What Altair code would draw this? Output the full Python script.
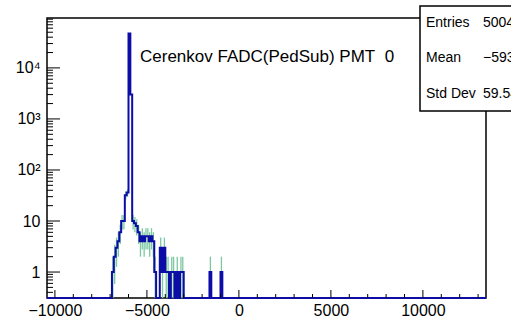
import altair as alt
import pandas as pd

# ---------------- data ----------------
BIN_WIDTH = 100
# contiguous bins (left edges) around the pedestal peak
main_lefts = list(range(-6900, -3000, 100))
main_counts = [1, 2, 3, 4, 6, 10, 10, 32, 36, 47000, 3000,
               10, 9, 8, 6, 4, 5, 4, 5, 5, 4, 5, 4, 1,
               0, 0, 3, 1, 3, 1, 1, 0, 1, 1, 0, 1, 0, 1, 1]
# isolated bins
iso_lefts = [-1600, -1000]
iso_counts = [1, 1]

X_MIN, X_MAX = -10430, 13430
Y_MIN, Y_MAX = 0.31, 95000

x_major = [-10000, -5000, 0, 5000, 10000]
x_minor = [v for v in range(-10000, 13001, 1000) if v not in x_major]
y_major = [1, 10, 100, 1000, 10000]
y_minor = [m * 10 ** e for e in range(-1, 5) for m in range(2, 10)
           if Y_MIN <= m * 10 ** e <= Y_MAX and m * 10 ** e not in y_major]

stats_labels = ["Entries", "Mean", "Std Dev"]
stats_values = ["50046", "\u22125938", "59.54"]
title_text = "Cerenkov FADC(PedSub) PMT\u00a0 0"

FONT = "Liberation Sans, Arial, sans-serif"

# ---------------- tables ----------------
counts_by_left = dict(zip(main_lefts, main_counts))
counts_by_left.update(dict(zip(iso_lefts, iso_counts)))

grid = list(range(-10400, 13400, BIN_WIDTH))
step_x = [X_MIN] + grid + [X_MAX]
step_c = [0] + [counts_by_left.get(g, 0) for g in grid] + [0]
steps = pd.DataFrame({"x": step_x, "c": step_c})

nz = [(l, c) for l, c in counts_by_left.items() if c > 0]
errs = pd.DataFrame({"left": [l for l, _ in nz], "c": [c for _, c in nz]})

W, H = 439, 280

xscale = alt.Scale(domain=[X_MIN, X_MAX], nice=False, zero=False)
yscale = alt.Scale(type="log", domain=[Y_MIN, Y_MAX], nice=False)

xaxis = alt.Axis(values=x_major, ticks=False, domain=False, grid=False,
                 labelFont=FONT, labelFontSize=16, labelColor="black",
                 labelPadding=4, title=None, format="d", labelFlush=False)
yaxis = alt.Axis(values=y_major, ticks=False, domain=False, grid=False,
                 labelFont=FONT, labelFontSize=16, labelColor="black",
                 labelPadding=7, title=None,
                 labelExpr="datum.value == 1 ? '1' : datum.value == 10 ? '10' : "
                           "datum.value == 100 ? '10\u00b2' : datum.value == 1000 ? '10\u00b3' : '10\u2074'")

err_layer = alt.Chart(errs).transform_calculate(
    xc=f"datum.left + {BIN_WIDTH / 2}",
    lo=f"max(datum.c - sqrt(datum.c), {Y_MIN})",
    hi="datum.c + sqrt(datum.c)",
).mark_rule(color="#7cc8a2", strokeWidth=1.3).encode(
    x=alt.X("xc:Q", scale=xscale, axis=xaxis),
    y=alt.Y("lo:Q", scale=yscale, axis=yaxis),
    y2="hi:Q",
)

step_layer = alt.Chart(steps).transform_calculate(
    yv=f"datum.c > 0 ? datum.c : {Y_MIN}"
).mark_line(interpolate="step-after", color="#0c0ca6", strokeWidth=2).encode(
    x=alt.X("x:Q", scale=xscale, axis=xaxis),
    y=alt.Y("yv:Q", scale=yscale, axis=yaxis),
)

def yticks(vals, length):
    return alt.Chart(pd.DataFrame({"v": vals})).mark_rule(color="black", strokeWidth=1).encode(
        y=alt.Y("v:Q", scale=yscale, axis=yaxis),
        x=alt.value(0), x2=alt.value(length))

def xticks(vals, length):
    return alt.Chart(pd.DataFrame({"v": vals})).mark_rule(color="black", strokeWidth=1).encode(
        x=alt.X("v:Q", scale=xscale, axis=xaxis),
        y=alt.value(H), y2=alt.value(H - length))

one = pd.DataFrame({"a": [0]})

title_layer = alt.Chart(one).mark_text(
    text=title_text, font=FONT, fontSize=17, align="left", baseline="alphabetic", color="black"
).encode(x=alt.value(93), y=alt.value(44))

box = alt.Chart(one).mark_rect(fill="white", stroke="black", strokeWidth=1.5).encode(
    x=alt.value(373), x2=alt.value(540), y=alt.value(-12), y2=alt.value(93))

stats_df = pd.DataFrame({"lab": stats_labels, "val": stats_values, "yy": [5, 40, 76]})
stats_lab = alt.Chart(stats_df).mark_text(
    font=FONT, fontSize=14, align="left", baseline="middle", color="black"
).encode(x=alt.value(379), y=alt.Y("yy:Q", scale=None), text="lab:N")
stats_val = alt.Chart(stats_df).mark_text(
    font=FONT, fontSize=14, align="left", baseline="middle", color="black"
).encode(x=alt.value(436), y=alt.Y("yy:Q", scale=None), text="val:N")

chart = alt.layer(
    err_layer, step_layer,
    yticks(y_major, 13), yticks(y_minor, 6),
    xticks(x_major, 8), xticks(x_minor, 4),
    title_layer, box, stats_lab, stats_val,
).properties(
    width=W, height=H,
    autosize=alt.AutoSizeParams(type="none"),
    padding={"left": 47, "top": 18, "right": 25, "bottom": 28},
    background="white",
).configure_view(stroke="black", strokeWidth=1.5)

chart.save("out.html", embed_options={"renderer": "svg", "actions": False})
